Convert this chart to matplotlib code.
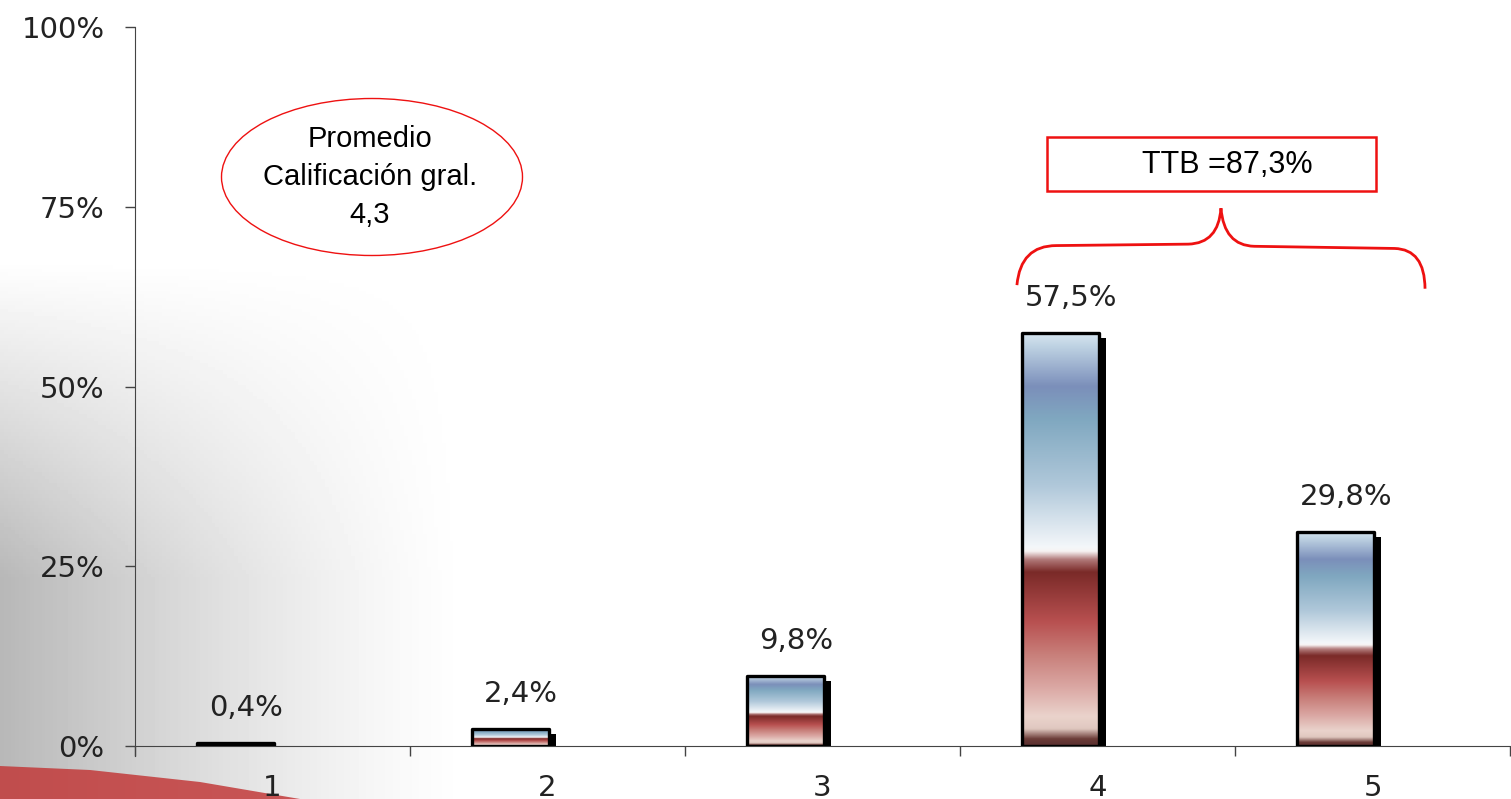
import numpy as np
import matplotlib
matplotlib.use('Agg')
import matplotlib.pyplot as plt
from matplotlib.colors import LinearSegmentedColormap
from matplotlib.patches import Rectangle, Ellipse, PathPatch, Polygon
from matplotlib.path import Path

plt.rcParams['font.family'] = ['Liberation Sans', 'DejaVu Sans']

# data
categories = ['1', '2', '3', '4', '5']
shares = [0.4, 2.4, 9.8, 57.5, 29.8]
value_labels = ['0,4%', '2,4%', '9,8%', '57,5%', '29,8%']
ytick_values = [0, 25, 50, 75, 100]
ytick_labels = ['0%', '25%', '50%', '75%', '100%']
avg_text = 'Promedio\nCalificación gral.\n4,3'
ttb_text = 'TTB =87,3%'

W, H = 1511, 799
fig = plt.figure(figsize=(W / 100, H / 100), dpi=100)

# background: grey fading to white on the left, red swoosh bottom-left
bg = fig.add_axes([0, 0, 1, 1], zorder=-10)
xx, yy = np.meshgrid(np.linspace(0, W, 400), np.linspace(0, H, 220))
fade_x = np.clip(1 - xx / 470.0, 0, 1) ** 1.3
fade_y = np.clip((yy - 260) / 320.0, 0, 1)
shade = 1 - 0.28 * fade_x * fade_y
bg.imshow(shade, cmap='gray', vmin=0, vmax=1, extent=[0, W, H, 0], aspect='auto')
bg.add_patch(Polygon([(0, 766), (90, 770), (200, 782), (300, 799), (0, 799)],
                     closed=True, facecolor='#c23a3a', edgecolor='none', alpha=0.85))
bg.set_xlim(0, W)
bg.set_ylim(H, 0)
bg.axis('off')

ax = fig.add_axes([135 / W, 53 / H, 1375 / W, 719 / H])
ax.set_facecolor('none')

stops = [(0.00, '#5a3030'), (0.015, '#6a3a36'), (0.04, '#e0c8c0'), (0.07, '#ead3cc'),
         (0.14, '#dba8a4'), (0.22, '#c87f7a'), (0.30, '#b85050'), (0.42, '#7a2a28'),
         (0.45, '#b07878'), (0.47, '#f7f2f2'), (0.48, '#f4f7fa'), (0.63, '#b0c8da'),
         (0.79, '#80a8c0'), (0.87, '#7b8fba'), (0.97, '#c0d4e4'), (1.00, '#d8e6f0')]
bar_cmap = LinearSegmentedColormap.from_list('bar', stops)
grad = np.linspace(0, 1, 256).reshape(-1, 1)

num_font = dict(family='DejaVu Sans', size=21, color='#222222')

x = np.arange(1, len(categories) + 1)
bar_w = 0.28
centers = x - 0.135
for c, h, lab in zip(centers, shares, value_labels):
    l, r = c - bar_w / 2, c + bar_w / 2
    # drop shadow
    ax.add_patch(Rectangle((l + 0.026, 0), bar_w, max(h - 0.7, 0), facecolor='black',
                           edgecolor='none', zorder=2))
    ax.imshow(grad, cmap=bar_cmap, origin='lower', extent=[l, r, 0, h], aspect='auto',
              zorder=3, interpolation='bilinear')
    ax.add_patch(Rectangle((l, 0), bar_w, h, facecolor='none', edgecolor='black',
                           linewidth=2.4, joinstyle='round', zorder=4))
    ax.annotate(lab, (c + 0.04, h), xytext=(0, 15), textcoords='offset points',
                ha='center', va='bottom', **num_font)

ax.set_xlim(0.5, 5.5)
ax.set_ylim(0, 100)
ax.set_yticks(ytick_values)
ax.set_yticklabels(ytick_labels, **num_font)
ax.set_xticks(np.arange(0.5, 6, 1))
ax.set_xticklabels([])
ax.set_xticks(x, minor=True)
ax.set_xticklabels(categories, minor=True, **num_font)
ax.tick_params(axis='y', length=7, width=1, color='#444444', pad=15)
ax.tick_params(axis='x', which='major', length=7, width=1, color='#444444')
ax.tick_params(axis='x', which='minor', length=0, pad=20)
for s in ['top', 'right']:
    ax.spines[s].set_visible(False)
ax.spines['left'].set_color('#444444')
ax.spines['bottom'].set_color('#444444')
ax.spines['left'].set_bounds(-1.4, 100)
ax.spines['left'].set_clip_on(False)

# average rating ellipse
fig.patches.append(Ellipse((372 / W, 1 - 177 / H), 301 / W, 157 / H, transform=fig.transFigure,
                           facecolor='none', edgecolor='#ee1111', linewidth=1))
fig.text(370 / W, 1 - 177 / H, avg_text, ha='center', va='center', fontsize=21,
         linespacing=1.45, color='black')

# TTB box and brace
fig.patches.append(Rectangle((1047 / W, 1 - 191 / H), 329 / W, 54 / H, transform=fig.transFigure,
                             facecolor='white', edgecolor='#ee1111', linewidth=1.8))
fig.text(1227 / W, 1 - 165 / H, ttb_text, ha='center', va='center', fontsize=22, color='black')

brace = Path([(3.707, 64.1), (3.72, 69.6), (3.85, 69.6), (4.33, 69.8), (4.44, 69.9),
              (4.449, 74.8), (4.46, 69.6), (4.57, 69.5), (5.08, 69.2), (5.19, 69.1),
              (5.191, 63.6)],
             [Path.MOVETO, Path.CURVE3, Path.CURVE3, Path.LINETO, Path.CURVE3, Path.CURVE3,
              Path.CURVE3, Path.CURVE3, Path.LINETO, Path.CURVE3, Path.CURVE3])
ax.add_patch(PathPatch(brace, facecolor='none', edgecolor='#ee1111', linewidth=2,
                       clip_on=False, zorder=5))

fig.savefig('out.png', dpi=100)
